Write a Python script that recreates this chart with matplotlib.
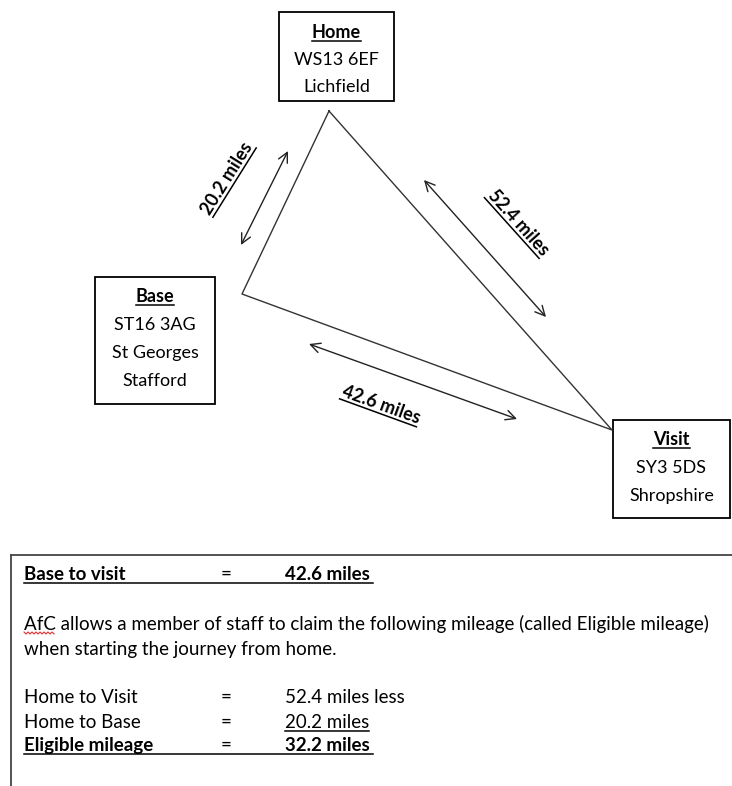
import matplotlib
matplotlib.use('Agg')
import matplotlib.pyplot as plt
import numpy as np

plt.rcParams['font.family'] = ['Lato', 'DejaVu Sans']

# places and their address lines
names = ['Home', 'Base', 'Visit']
details = [['WS13 6EF', 'Lichfield'],
           ['ST16 3AG', 'St Georges', 'Stafford'],
           ['SY3 5DS', 'Shropshire']]

# leg distances (miles)
legs = ['Home to Base', 'Home to Visit', 'Base to Visit']
miles = [20.2, 52.4, 42.6]
eligible = miles[1] - miles[0]

W, H = 732, 786
fig = plt.figure(figsize=(W / 100, H / 100), dpi=100)
ax = fig.add_axes([0, 0, 1, 1])
ax.set_xlim(0, W)
ax.set_ylim(H, 0)
ax.axis('off')
renderer = fig.canvas.get_renderer()


def text_width(s, size, weight):
    tmp = ax.text(0, 0, s, fontsize=size, fontweight=weight)
    w = tmp.get_window_extent(renderer).width
    tmp.remove()
    return w


def utext(x, y, s, size=12, weight='normal', angle=0, ha='center', gap=3, under=True):
    ax.text(x, y, s, fontsize=size, fontweight=weight, rotation=angle,
            rotation_mode='anchor', ha=ha, va='baseline')
    if not under:
        return
    w = text_width(s, size, weight)
    a = np.radians(angle)
    ux, uy = np.cos(a), -np.sin(a)
    nx, ny = np.sin(a), np.cos(a)
    if ha == 'center':
        x0, y0 = x - ux * w / 2, y - uy * w / 2
    else:
        x0, y0 = x, y
    x1, y1 = x0 + ux * w, y0 + uy * w
    ax.plot([x0 + nx * gap, x1 + nx * gap], [y0 + ny * gap, y1 + ny * gap],
            color='black', lw=1.1)


# boxes: left, top, right, bottom
boxes = [(279, 12, 394, 101), (95, 277, 215, 404), (613, 420, 730, 518)]
first_base = [38, 302, 445]
step = [27, 28, 28]
for name, lines, (l, t, r, b), y0, dy in zip(names, details, boxes, first_base, step):
    ax.add_patch(plt.Rectangle((l, t), r - l, b - t, fill=False, ec='black', lw=1.3))
    cx = (l + r) / 2
    utext(cx, y0, name, 13, 'bold', gap=3)
    for i, s in enumerate(lines):
        ax.text(cx, y0 + dy * (i + 1), s, fontsize=13, ha='center', va='baseline')

# triangle
home, base, visit = (329, 111), (242, 294), (612, 430)
tri = [home, base, visit, home]
ax.plot([p[0] for p in tri], [p[1] for p in tri], color='#333333', lw=1)

# double arrows with distance labels
arrows = [((288, 151), (241, 245)), ((424, 180), (546, 317)), ((309, 344), (517, 419))]
label_pos = [(232, 181), (514, 226), (379, 410)]
label_ang = [58, -48, -20]
for (p0, p1), pos, ang, m in zip(arrows, label_pos, label_ang, miles):
    ax.annotate('', xy=p1, xytext=p0,
                arrowprops=dict(arrowstyle='<->,head_length=0.7,head_width=0.35',
                                color='#222222', lw=1, shrinkA=0, shrinkB=0))
    utext(pos[0], pos[1], f'{m} miles', 13, 'bold', angle=ang)

# bottom panel
ax.plot([11, W], [555, 555], color='#444444', lw=1.3)
ax.plot([11, 11], [555, H], color='#444444', lw=1.3)

fs = 13.5
xl, xe, xv = 24, 221, 285
ax.text(xl, 580, 'Base to visit', fontsize=fs, fontweight='bold', va='baseline')
ax.text(xe, 580, '=', fontsize=fs, va='baseline')
ax.text(xv, 580, f'{miles[2]} miles', fontsize=fs, fontweight='bold', va='baseline')
ax.plot([xl, 373], [583, 583], color='black', lw=1.1)

ax.text(xl, 630, 'AfC allows a member of staff to claim the following mileage (called Eligible mileage)',
        fontsize=fs, va='baseline')
sx = np.arange(24, 56, 2)
ax.plot(sx, 633 + np.where(np.arange(len(sx)) % 2 == 0, -1, 1), color='#e03030', lw=0.8)
ax.text(xl, 655, 'when starting the journey from home.', fontsize=fs, va='baseline')

ax.text(xl, 703, 'Home to Visit', fontsize=fs, va='baseline')
ax.text(xe, 703, '=', fontsize=fs, va='baseline')
ax.text(xv, 703, f'{miles[1]} miles less', fontsize=fs, va='baseline')

ax.text(xl, 728, 'Home to Base', fontsize=fs, va='baseline')
ax.text(xe, 728, '=', fontsize=fs, va='baseline')
utext(xv, 728, f'{miles[0]} miles', fs, ha='left')

ax.text(xl, 751, 'Eligible mileage', fontsize=fs, fontweight='bold', va='baseline')
ax.text(xe, 751, '=', fontsize=fs, va='baseline')
ax.text(xv, 751, f'{eligible:.1f} miles', fontsize=fs, fontweight='bold', va='baseline')
ax.plot([xl, 373], [754, 754], color='black', lw=1.1)

fig.savefig('out.png', dpi=100)
